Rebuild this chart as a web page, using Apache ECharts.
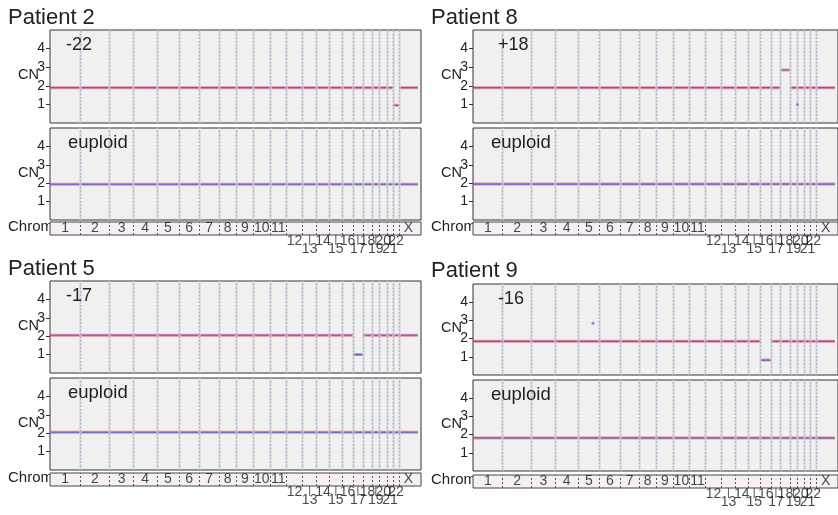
<!DOCTYPE html>
<html>
<head>
<meta charset="utf-8">
<script src="https://cdn.jsdelivr.net/npm/echarts@6/dist/echarts.min.js"></script>
<style>
  html, body { margin: 0; padding: 0; background: #fff; }
  #chart { width: 838px; height: 515px; }
</style>
</head>
<body>
<div id="chart"></div>
<script>
// chromosomes (Mb)
const chromNames = ['1','2','3','4','5','6','7','8','9','10','11','12','13','14','15','16','17','18','19','20','21','22','X']
const chromLengths = [249,243,198,191,181,171,159,146,141,136,135,134,115,107,103,90,81,78,59,63,48,51,155]
const axisEnd = 3060
const cnTicks = [1, 2, 3, 4]

// copy number per chromosome
const patient2Cn      = [1.9,1.9,1.9,1.9,1.9,1.9,1.9,1.9,1.9,1.9,1.9,1.9,1.9,1.9,1.9,1.9,1.9,1.9,1.9,1.9,1.9,0.95,1.9]
const patient2Euploid = [1.94,1.94,1.94,1.94,1.94,1.94,1.94,1.94,1.94,1.94,1.94,1.94,1.94,1.94,1.94,1.94,1.94,1.94,1.94,1.94,1.94,1.94,1.94]
const patient8Cn      = [1.9,1.9,1.9,1.9,1.9,1.9,1.9,1.9,1.9,1.9,1.9,1.9,1.9,1.9,1.9,1.9,1.9,2.85,1.9,1.9,1.9,1.9,1.9]
const patient8Euploid = [1.95,1.95,1.95,1.95,1.95,1.95,1.95,1.95,1.95,1.95,1.95,1.95,1.95,1.95,1.95,1.95,1.95,1.95,1.95,1.95,1.95,1.95,1.95]
const patient5Cn      = [2.05,2.05,2.05,2.05,2.05,2.05,2.05,2.05,2.05,2.05,2.05,2.05,2.05,2.05,2.05,2.05,1.0,2.05,2.05,2.05,2.05,2.05,2.05]
const patient5Euploid = [2.05,2.05,2.05,2.05,2.05,2.05,2.05,2.05,2.05,2.05,2.05,2.05,2.05,2.05,2.05,2.05,2.05,2.05,2.05,2.05,2.05,2.05,2.05]
const patient9Cn      = [1.85,1.85,1.85,1.85,1.85,1.85,1.85,1.85,1.85,1.85,1.85,1.85,1.85,1.85,1.85,0.82,1.85,1.85,1.85,1.85,1.85,1.85,1.85]
const patient9Euploid = [1.82,1.82,1.82,1.82,1.82,1.82,1.82,1.82,1.82,1.82,1.82,1.82,1.82,1.82,1.82,1.82,1.82,1.82,1.82,1.82,1.82,1.82,1.82]
// stray bins [genome position, CN]
const patient8Outliers = [[2720, 1.0]]
const patient9Outliers = [[1006, 2.85]]

const patientNames = ['Patient 2', 'Patient 8', 'Patient 5', 'Patient 9']
const changeLabels = ['-22', '+18', '-17', '-16']

// cumulative starts / ends
const starts = []
const ends = []
let acc = 0
chromLengths.forEach(len => { starts.push(acc); acc += len; ends.push(acc) })
const mids = starts.map((s, i) => s + chromLengths[i] / 2)

// layout of the four blocks
const blocks = [
  { left: 50, width: 371, top1: 30, h1: 93, top2: 128, h2: 92, bar: 222, titleY: 7, labelDx: 16, cn: patient2Cn, eu: patient2Euploid, out: [] },
  { left: 473, width: 369, top1: 30, h1: 93, top2: 128, h2: 92, bar: 222, titleY: 7, labelDx: 25, cn: patient8Cn, eu: patient8Euploid, out: patient8Outliers },
  { left: 50, width: 371, top1: 281, h1: 92, top2: 378, h2: 92, bar: 473, titleY: 258, labelDx: 16, cn: patient5Cn, eu: patient5Euploid, out: [] },
  { left: 473, width: 369, top1: 284, h1: 91, top2: 380, h2: 91, bar: 475, titleY: 260, labelDx: 25, cn: patient9Cn, eu: patient9Euploid, out: patient9Outliers }
]
const barH = 13
const font = 'Liberation Sans, Arial, sans-serif'

function segments(cnArr) {
  const data = []
  cnArr.forEach((cn, i) => {
    data.push([starts[i], cn], [ends[i], cn], [ends[i], '-'])
  })
  return data
}

const boundaryLines = ends.slice(0, 22).map(v => ({ xAxis: v }))

const grids = []
const xAxes = []
const yAxes = []
const series = []
const graphics = []

function addPlot(b, top, h, cnArr, outliers) {
  const idx = grids.length
  grids.push({ left: b.left, top: top, width: b.width, height: h, show: true,
    backgroundColor: '#f0f0f0', borderColor: '#333', borderWidth: 1 })
  xAxes.push({ gridIndex: idx, type: 'value', min: 0, max: axisEnd, show: false })
  yAxes.push({ gridIndex: idx, type: 'value', min: 0, max: 5, interval: 1,
    axisLine: { show: false }, splitLine: { show: false },
    axisTick: { show: true, length: 4, customValues: cnTicks, lineStyle: { color: '#333' } },
    axisLabel: { customValues: cnTicks, margin: 5, fontSize: 14, color: '#222', fontFamily: font } })
  series.push({
    type: 'line', xAxisIndex: idx, yAxisIndex: idx, data: segments(cnArr), showSymbol: false,
    silent: true, lineStyle: { color: 'rgba(232,115,145,0.8)', width: 3 }, z: 3,
    markLine: { silent: true, symbol: 'none', label: { show: false },
      lineStyle: { color: 'rgba(210,210,218,0.55)', width: 3, type: 'solid' }, data: boundaryLines }
  })
  series.push({
    type: 'line', xAxisIndex: idx, yAxisIndex: idx, data: segments(cnArr), showSymbol: false,
    silent: true, lineStyle: { color: '#5a66c4', width: 1.1 }, z: 4,
    markLine: { silent: true, symbol: 'none', label: { show: false },
      lineStyle: { color: '#a3aec6', width: 1, type: [1.5, 2] }, data: boundaryLines }
  })
  if (outliers.length) {
    series.push({ type: 'scatter', xAxisIndex: idx, yAxisIndex: idx, data: outliers, symbolSize: 3,
      itemStyle: { color: '#7a6ac8' }, z: 5, silent: true })
  }
  graphics.push({ type: 'text', left: b.left - 32, top: top + h / 2 - 9,
    style: { text: 'CN', fontSize: 14.5, fill: '#222', fontFamily: font } })
}

function addBar(b) {
  const idx = grids.length
  grids.push({ left: b.left, top: b.bar, width: b.width, height: barH, show: true,
    backgroundColor: '#f6f0f6', borderColor: '#444', borderWidth: 1 })
  xAxes.push({ gridIndex: idx, type: 'value', min: 0, max: axisEnd, show: false })
  yAxes.push({ gridIndex: idx, type: 'value', min: 0, max: 1, show: false })
  const inside = []
  const row1 = []
  const row2 = []
  chromNames.forEach((name, i) => {
    const n = i + 1
    if (n <= 11 || name === 'X') inside.push({ value: [mids[i], 0.5], name: name })
    else if (n % 2 === 0) row1.push({ value: [mids[i], 0], name: name })
    else row2.push({ value: [mids[i], 0], name: name })
  })
  const labelStyle = { show: true, formatter: p => p.name, fontSize: 14, color: '#1a1a1a', fontFamily: font }
  series.push({ type: 'scatter', xAxisIndex: idx, yAxisIndex: idx, data: inside, symbolSize: 1,
    itemStyle: { color: 'rgba(0,0,0,0)' }, clip: false, silent: true, z: 6,
    label: Object.assign({}, labelStyle, { position: 'inside' }),
    markLine: { silent: true, symbol: 'none', label: { show: false },
      lineStyle: { color: '#555', width: 1, type: [2, 2] }, data: boundaryLines } })
  series.push({ type: 'scatter', xAxisIndex: idx, yAxisIndex: idx, data: row1, symbolSize: 1,
    itemStyle: { color: 'rgba(0,0,0,0)' }, clip: false, silent: true, z: 6,
    label: Object.assign({}, labelStyle, { position: 'bottom', distance: -1 }) })
  series.push({ type: 'scatter', xAxisIndex: idx, yAxisIndex: idx, data: row2, symbol: 'rect',
    symbolSize: [1, 10], symbolOffset: [0, 5], itemStyle: { color: '#333' }, clip: false, silent: true, z: 6,
    label: Object.assign({}, labelStyle, { position: 'bottom', distance: -3 }) })
  graphics.push({ type: 'text', left: b.left - 42, top: b.bar + barH / 2 - 9, z: -1,
    style: { text: 'Chrom', fontSize: 15, fill: '#222', fontFamily: font } })
}

blocks.forEach((b, k) => {
  addPlot(b, b.top1, b.h1, b.cn, b.out)
  addPlot(b, b.top2, b.h2, b.eu, [])
  addBar(b)
  graphics.push({ type: 'text', left: b.left - 42, top: b.titleY,
    style: { text: patientNames[k], fontSize: 22, fill: '#222', fontFamily: font } })
  graphics.push({ type: 'text', left: b.left + b.labelDx, top: b.top1 + 6, z: 10,
    style: { text: changeLabels[k], fontSize: 18, fill: '#222', fontFamily: font } })
  graphics.push({ type: 'text', left: b.left + 18, top: b.top2 + 5, z: 10,
    style: { text: 'euploid', fontSize: 18.5, fill: '#222', fontFamily: font } })
})

const chart = echarts.init(document.getElementById('chart'))
chart.setOption({
  animation: false,
  backgroundColor: '#fff',
  grid: grids,
  xAxis: xAxes,
  yAxis: yAxes,
  series: series,
  graphic: graphics
})
</script>
</body>
</html>
